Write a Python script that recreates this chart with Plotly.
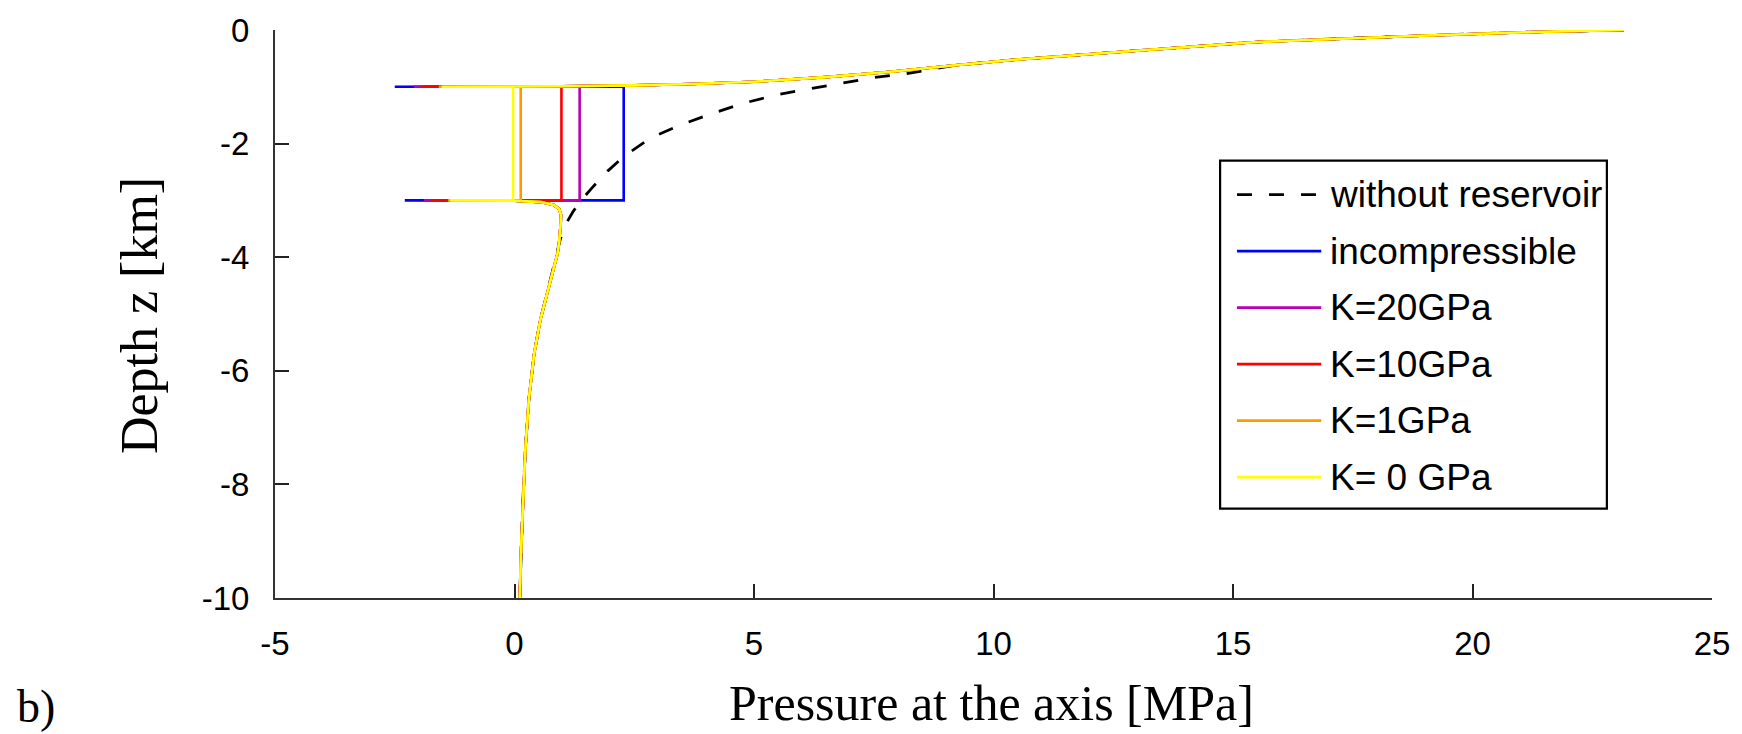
import plotly.graph_objects as go

# ---------------- data ----------------
# shared profile above the reservoir (surface down to reservoir top), MPa / km
upper_p = [23.16, 21.5, 18.9, 15.5, 12.4, 10.5, 9.2, 7.8, 6.5, 5.0, 3.7, 2.5, 1.0]
upper_z = [0.0, -0.03, -0.10, -0.21, -0.40, -0.52, -0.62, -0.74, -0.83, -0.91, -0.95, -0.975, -0.99]

# shared profile below the reservoir (reservoir bottom down to -10 km)
lower_p = [0.0, 0.55, 0.82, 0.93, 0.97, 0.965, 0.95, 0.93, 0.90, 0.72, 0.54, 0.41, 0.30, 0.225, 0.175, 0.135, 0.11]
lower_z = [-3.005, -3.03, -3.08, -3.15, -3.25, -3.40, -3.60, -3.75, -3.93, -4.5, -5.1, -5.7, -6.5, -7.4, -8.3, -9.2, -10.0]

# reservoir geometry
res_top_z = -1.0
res_bot_z = -3.0

# per-series values
series_names = ["incompressible", "K=20GPa", "K=10GPa", "K=1GPa", "K= 0 GPa"]
series_colors = ["#0000FF", "#B800B8", "#FF0000", "#FF9900", "#FFFF00"]
res_pressure = [2.28, 1.36, 0.98, 0.13, -0.03]       # pressure inside the reservoir
top_spike = [-2.50, -2.10, -1.94, -1.58, -1.52]      # minimum at reservoir top
bot_spike = [-2.29, -1.89, -1.72, -1.39, -1.35]      # minimum at reservoir bottom

# without reservoir (dashed)
nores_p = [23.16, 21.5, 18.9, 15.5, 12.4, 10.5, 9.2, 8.17, 7.48, 6.79, 6.09, 5.47, 4.78, 4.16,
           3.47, 2.84, 2.29, 1.95, 1.65, 1.39, 1.22, 1.07, 0.95, 0.88, 0.72, 0.54, 0.41, 0.30,
           0.225, 0.175, 0.135, 0.11]
nores_z = [0.0, -0.03, -0.10, -0.21, -0.40, -0.52, -0.62, -0.77, -0.84, -0.94, -1.04, -1.14,
           -1.29, -1.46, -1.67, -1.90, -2.22, -2.48, -2.75, -3.0, -3.2, -3.42, -3.7, -3.95,
           -4.5, -5.1, -5.7, -6.5, -7.4, -8.3, -9.2, -10.0]

x_tickvals = [-5, 0, 5, 10, 15, 20, 25]
x_ticktext = ["-5", "0", "5", "10", "15", "20", "25"]
y_tickvals = [0, -2, -4, -6, -8, -10]
y_ticktext = ["0", "-2", "-4", "-6", "-8", "-10"]

legend_labels = ["without reservoir"] + series_names
legend_colors = ["black"] + series_colors
legend_dashes = ["15px,17px"] + ["solid"] * len(series_names)

# ---------------- layout constants (pixels) ----------------
W, H = 1742, 734
ML, MR, MT, MB = 275, 18, 20, 136
PW, PH = W - ML - MR, H - MT - MB


def px(x):
    return (x - ML) / PW


def py(y):
    return (H - MB - y) / PH


fig = go.Figure()

fig.add_trace(go.Scatter(
    x=nores_p, y=nores_z, mode="lines",
    line=dict(color="black", width=2.8, dash="15px,17px"),
    name="without reservoir", showlegend=False))

for name, col, pr, ts, bs in zip(series_names, series_colors, res_pressure, top_spike, bot_spike):
    xs = upper_p + [ts, pr, pr, bs] + lower_p
    ys = upper_z + [res_top_z, res_top_z, res_bot_z, res_bot_z] + lower_z
    fig.add_trace(go.Scatter(x=xs, y=ys, mode="lines",
                             line=dict(color=col, width=2.6),
                             name=name, showlegend=False))

axis_common = dict(
    showgrid=False, zeroline=False, showline=True, linecolor="#333333", linewidth=2,
    ticks="inside", ticklen=14, tickwidth=1.5, tickcolor="#222222",
    ticklabeloverflow="allow",
    tickfont=dict(family="Liberation Sans, Arial, sans-serif", size=33, color="black"),
)

fig.update_xaxes(range=[-5, 25], tickmode="array", tickvals=x_tickvals, ticktext=x_ticktext,
                 ticklabelstandoff=15, **axis_common)
fig.update_yaxes(range=[-10, 0], tickmode="array", tickvals=y_tickvals, ticktext=y_ticktext,
                 ticklabelstandoff=17, **axis_common)

shapes = []
annotations = []

# legend box
lx0, ly0, lx1, ly1 = 1228, 153, 1618, 507
shapes.append(dict(type="rect", xref="paper", yref="paper",
                   x0=px(lx0), x1=px(lx1), y0=py(ly1), y1=py(ly0),
                   line=dict(color="black", width=2.2), fillcolor="white", layer="above"))
for k, (lab, col, dsh) in enumerate(zip(legend_labels, legend_colors, legend_dashes)):
    yy = 187.5 + 57.5 * k
    shapes.append(dict(type="line", xref="paper", yref="paper",
                       x0=px(1245), x1=px(1330), y0=py(yy), y1=py(yy),
                       line=dict(color=col, width=2.6, dash=dsh), layer="above"))
    annotations.append(dict(xref="paper", yref="paper", x=px(1337), y=py(yy),
                            text=lab, showarrow=False, xanchor="left", yanchor="middle",
                            font=dict(family="Liberation Sans, Arial, sans-serif", size=37,
                                      color="black")))

serif = "Liberation Serif, Times New Roman, serif"
annotations.append(dict(xref="paper", yref="paper", x=px(997), y=py(705),
                        text="Pressure at the axis [MPa]", showarrow=False,
                        xanchor="center", yanchor="middle",
                        font=dict(family=serif, size=50, color="black")))
annotations.append(dict(xref="paper", yref="paper", x=px(139), y=py(311),
                        text="Depth z [km]", showarrow=False, textangle=-90,
                        xanchor="center", yanchor="middle",
                        font=dict(family=serif, size=52, color="black")))
annotations.append(dict(xref="paper", yref="paper", x=px(34), y=py(708),
                        text="b)", showarrow=False, xanchor="center", yanchor="middle",
                        font=dict(family=serif, size=46, color="black")))

fig.update_layout(
    width=W, height=H, autosize=False,
    margin=dict(l=ML, r=MR, t=MT, b=MB, pad=0),
    paper_bgcolor="white", plot_bgcolor="white",
    showlegend=False,
    shapes=shapes, annotations=annotations,
)

fig.write_html(
    "out.html",
    config={"displayModeBar": False},
    post_script="document.body.style.margin='0';document.body.style.padding='0';"
                "document.documentElement.style.overflow='hidden';",
)
